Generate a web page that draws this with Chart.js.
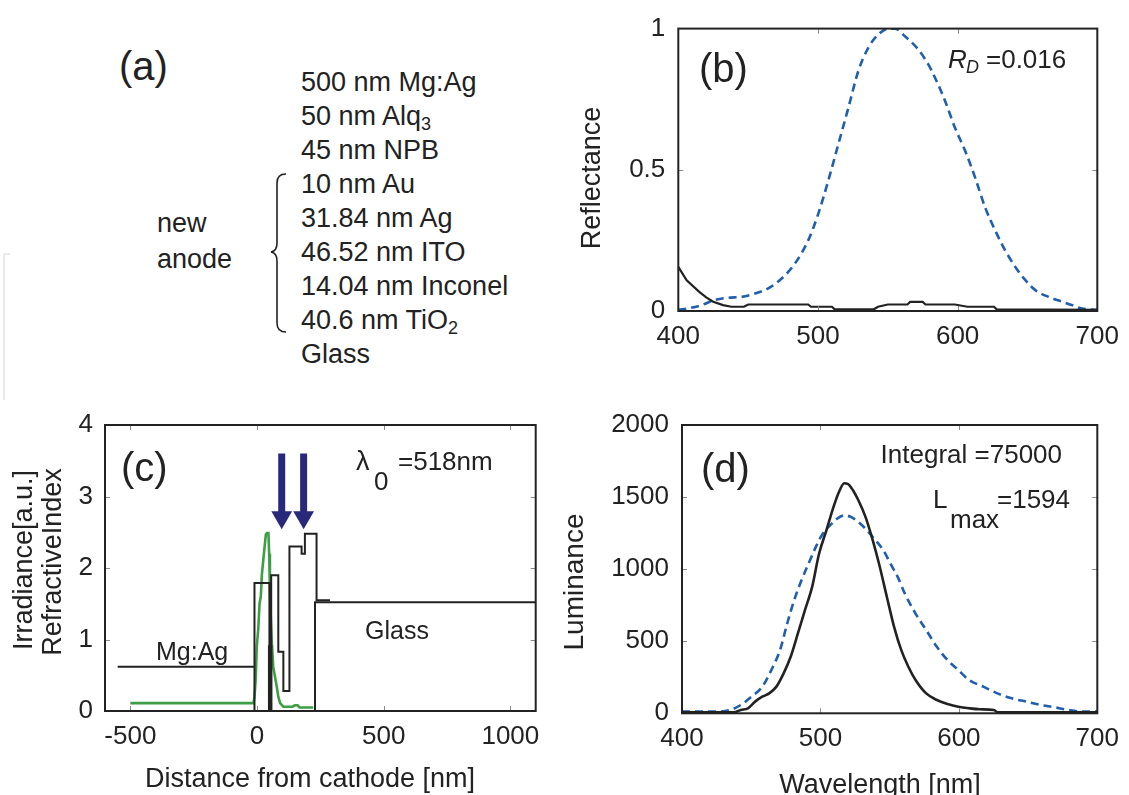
<!DOCTYPE html>
<html><head><meta charset="utf-8">
<script src="https://cdn.jsdelivr.net/npm/chart.js@4.4.0/dist/chart.umd.min.js"></script>
<style>
html,body{margin:0;padding:0;background:#fff;}
body{width:1129px;height:795px;position:relative;overflow:hidden;}
canvas{position:absolute;}
</style></head><body>
<svg width="560" height="400" style="position:absolute;left:0;top:0" font-family="Liberation Sans, Arial, Helvetica, sans-serif" fill="#222">
  <path d="M10,254 L4,254 L4,410" stroke="#e4e4e4" stroke-width="1.5" fill="none"/>
  <text x="119" y="80" font-size="40">(a)</text>
  <text x="301" y="90.7" font-size="27">500 nm Mg:Ag</text>
  <text x="301" y="124.7" font-size="27">50 nm Alq<tspan font-size="18" dy="5">3</tspan></text>
  <text x="301" y="158.7" font-size="27">45 nm NPB</text>
  <text x="301" y="192.7" font-size="27">10 nm Au</text>
  <text x="301" y="226.7" font-size="27">31.84 nm Ag</text>
  <text x="301" y="260.7" font-size="27">46.52 nm ITO</text>
  <text x="301" y="294.7" font-size="27">14.04 nm Inconel</text>
  <text x="301" y="328.7" font-size="27">40.6 nm TiO<tspan font-size="18" dy="5">2</tspan></text>
  <text x="301" y="362.7" font-size="27">Glass</text>
  <text x="157" y="231.7" font-size="27">new</text>
  <text x="157" y="268.3" font-size="27">anode</text>
  <path d="M286,174 Q277,174 277,183 L277,243 Q277,251 271,252 Q277,253 277,261 L277,323 Q277,332 286,332" stroke="#222" stroke-width="1.6" fill="none"/>
</svg>
<canvas id="cb" width="569" height="380" style="left:560px;top:0px;width:569px;height:380px"></canvas>
<canvas id="cc" width="560" height="415" style="left:0px;top:380px;width:560px;height:415px"></canvas>
<canvas id="cd" width="569" height="415" style="left:560px;top:380px;width:569px;height:415px"></canvas>
<script>
// ---------------- DATA ----------------
// Panel (b): reflectance vs wavelength
const bTicksX = [400, 500, 600, 700];
const bTicksY = [0, 0.5, 1];
const bBlackWl = [400, 406, 415, 420, 425, 432, 438, 447, 450, 493, 495, 510, 512, 540, 543, 550, 564, 566, 575, 577, 598, 607, 626, 628, 700];
const bBlackR  = [0.156, 0.109, 0.068, 0.048, 0.033, 0.021, 0.015, 0.015, 0.023, 0.023, 0.015, 0.015, 0.006, 0.006, 0.015, 0.023, 0.023, 0.032, 0.032, 0.023, 0.023, 0.015, 0.015, 0.006, 0.004];
const bBlueWl = [400, 408, 416.7, 426, 435.8, 445.3, 455, 464.4, 474, 483.5, 493, 500.2, 507.4, 514.6, 521.8, 528.9, 536, 543.2, 550.4, 555, 562.3, 571.8, 579, 583.8, 591, 598, 605.3, 612.4, 619.6, 626.8, 634, 641.3, 648.5, 655.6, 665, 674.6, 681.7, 688.9, 700];
const bBlueR  = [0.004, 0.01, 0.021, 0.039, 0.047, 0.05, 0.062, 0.08, 0.115, 0.168, 0.25, 0.344, 0.462, 0.591, 0.72, 0.85, 0.932, 0.979, 1.0, 1.0, 0.973, 0.926, 0.873, 0.826, 0.744, 0.65, 0.568, 0.474, 0.368, 0.286, 0.215, 0.156, 0.109, 0.074, 0.05, 0.033, 0.021, 0.009, 0.004];

// Panel (c): refractive index profile and irradiance vs distance
const cTicksX = [-500, 0, 500, 1000];
const cTicksY = [0, 1, 2, 3, 4];
const cIndexX = [-550, -10, -10, -10, 49, 49, 56, 56, 84, 84, 104, 104, 128, 128, 176, 176, 189, 189, 235, 235, 288];
const cIndexN = [0.62, 0.62, 0, 1.79, 1.79, 0.9, 0.9, 1.9, 1.9, 0.83, 0.83, 0.28, 0.28, 2.3, 2.3, 2.2, 2.2, 2.48, 2.48, 1.55, 1.55];
const cGlassX = [229, 229, 1100];
const cGlassN = [0, 1.52, 1.52];
const cEmitX = [52, 52];
const cEmitY = [0, 0.92];
const cIrrX = [-500, -14, -10, -5, -1, 5, 10, 15, 19, 25, 30, 35, 40, 45, 48, 51, 55, 58, 64, 71, 78, 84, 91, 104, 140, 150, 160, 168, 222];
const cIrrY = [0.11, 0.11, 0.2, 0.45, 0.9, 1.15, 1.5, 1.6, 1.9, 2.12, 2.3, 2.47, 2.49, 2.49, 2.2, 1.69, 1.25, 0.99, 0.62, 0.48, 0.34, 0.2, 0.11, 0.06, 0.06, 0.08, 0.08, 0.05, 0.05];
const cArrowX = [97.5, 184];
const cArrowTop = 3.6, cArrowBase = 2.76, cArrowHead = 2.71;

// Panel (d): luminance vs wavelength
const dTicksX = [400, 500, 600, 700];
const dTicksY = [0, 500, 1000, 1500, 2000];
const dBlackWl = [400, 437.3, 442.5, 447.6, 452.8, 458, 463, 468.2, 473.4, 478.5, 483.7, 488.8, 494, 499, 504.3, 509.4, 513.3, 517.2, 519.7, 523.6, 527.5, 532.6, 537.8, 542.9, 548, 553.2, 558.4, 563.5, 568.7, 576.4, 584.1, 591.8, 599.6, 607.3, 615, 625.3, 628, 700];
const dBlackL  = [7, 7, 23, 35, 81, 115, 138, 185, 277, 392, 554, 715, 877, 1107, 1269, 1430, 1534, 1596, 1592, 1546, 1476, 1361, 1200, 1015, 807, 600, 438, 323, 231, 138, 92, 65, 46, 35, 28, 23, 7, 7];
const dBlueWl = [400, 424.5, 434.8, 442.5, 450.2, 458, 465.7, 470.8, 476, 481, 486.3, 491.4, 496.6, 501.7, 506.9, 512, 517.2, 522.3, 527.5, 532.6, 537.8, 545.5, 550.6, 555.8, 561, 568.7, 576.4, 584.1, 591.8, 599.6, 607.3, 617.6, 627.9, 638.2, 648.5, 658.8, 669, 679.4, 689.7, 700];
const dBlueL  = [12, 12, 23, 58, 115, 185, 323, 438, 623, 784, 923, 1038, 1153, 1246, 1303, 1350, 1373, 1361, 1326, 1280, 1223, 1130, 1038, 946, 830, 692, 577, 461, 369, 300, 231, 185, 138, 104, 81, 58, 42, 23, 12, 12];

// ---------------- HELPERS ----------------
const FONT = '"Liberation Sans", Arial, Helvetica, sans-serif';
Chart.defaults.font.family = FONT;
Chart.defaults.color = '#222';
const INK = '#222';
const BLUE = '#1f5fae';
const GREEN = '#3d9e45';
const NAVY = '#29287a';

function pts(xs, ys) { return xs.map((x, i) => ({ x: x, y: ys[i] })); }

function axis(min, max, ticks, fit, isX, pad) {
  return {
    type: 'linear', min: min, max: max,
    afterBuildTicks: s => { s.ticks = ticks.map(v => ({ value: v })); },
    afterFit: s => { if (isX) s.height = fit; else s.width = fit; },
    grid: { display: false, drawTicks: false },
    border: { display: false },
    ticks: { font: { size: 26 }, color: INK, padding: pad, autoSkip: false, maxRotation: 0, minRotation: 0,
             callback: v => String(v) }
  };
}

function line(data, color, width, extra) {
  return Object.assign({ data: data, showLine: true, pointRadius: 0, pointHoverRadius: 0, fill: false,
    borderColor: color, borderWidth: width, tension: 0 }, extra || {});
}

function panelPlugin(texts, ox, oy) {
  return {
    id: 'panel',
    afterDatasetsDraw(chart) {
      const ctx = chart.ctx, a = chart.chartArea, sx = chart.scales.x, sy = chart.scales.y;
      ctx.save();
      ctx.strokeStyle = '#8a8a8a'; ctx.lineWidth = 1;
      ctx.beginPath();
      sx.ticks.forEach(t => {
        const p = Math.round(sx.getPixelForValue(t.value)) + 0.5;
        if (p > a.left + 3 && p < a.right - 3) {
          ctx.moveTo(p, a.bottom); ctx.lineTo(p, a.bottom - 5);
          ctx.moveTo(p, a.top); ctx.lineTo(p, a.top + 5);
        }
      });
      sy.ticks.forEach(t => {
        const p = Math.round(sy.getPixelForValue(t.value)) + 0.5;
        if (p > a.top + 3 && p < a.bottom - 3) {
          ctx.moveTo(a.left, p); ctx.lineTo(a.left + 5, p);
          ctx.moveTo(a.right, p); ctx.lineTo(a.right - 5, p);
        }
      });
      ctx.stroke();
      ctx.strokeStyle = INK; ctx.lineWidth = 2;
      ctx.strokeRect(a.left, a.top, a.right - a.left, a.bottom - a.top);
      ctx.fillStyle = INK;
      texts.forEach(t => {
        ctx.save();
        ctx.font = (t.style || '') + ' ' + t.size + 'px ' + FONT;
        ctx.translate(t.x - ox, t.y - oy);
        if (t.rot) { ctx.rotate(-Math.PI / 2); ctx.textAlign = 'center'; ctx.textBaseline = 'middle'; }
        else { ctx.textAlign = t.align || 'left'; ctx.textBaseline = 'alphabetic'; }
        ctx.fillText(t.s, 0, 0);
        ctx.restore();
      });
      ctx.restore();
    }
  };
}

function baseOptions(pad, xAxis, yAxis) {
  return {
    responsive: false, animation: false, devicePixelRatio: 1,
    layout: { padding: pad },
    plugins: { legend: { display: false }, tooltip: { enabled: false } },
    events: [],
    scales: { x: xAxis, y: yAxis }
  };
}

// ---------------- PANEL (b) ----------------
new Chart(document.getElementById('cb'), {
  type: 'scatter',
  data: { datasets: [
    line(pts(bBlackWl, bBlackR), INK, 2.2),
    line(pts(bBlueWl, bBlueR), BLUE, 2.6, { borderDash: [8, 5], cubicInterpolationMode: 'monotone' })
  ] },
  options: baseOptions({ left: 0, top: 27.3, right: 27.3, bottom: 0 },
    axis(400, 700, bTicksX, 69, true, 10),
    axis(0, 1, bTicksY, 118.3, false, 13)),
  plugins: [panelPlugin([
    { s: '(b)', x: 699, y: 82, size: 40 },
    { s: 'R', x: 948, y: 68, size: 26, style: 'italic' },
    { s: 'D', x: 966, y: 73, size: 18, style: 'italic' },
    { s: '=0.016', x: 986, y: 68, size: 26 },
    { s: 'Reflectance', x: 592.5, y: 178, size: 27, rot: true }
  ], 560, 0)]
});

// ---------------- PANEL (c) ----------------
const cDatasets = [];
cArrowX.forEach(x => {
  cDatasets.push(line([{ x: x, y: cArrowTop }, { x: x, y: cArrowBase }], NAVY, 7, { borderCapStyle: 'butt' }));
});
cDatasets.push({ data: cArrowX.map(x => ({ x: x, y: cArrowHead })), showLine: false, pointStyle: 'triangle',
  rotation: 180, pointRadius: 12, pointHoverRadius: 12, backgroundColor: NAVY, borderColor: NAVY, borderWidth: 0 });
cDatasets.push(line(pts(cEmitX, cEmitY), INK, 4.5, { borderCapStyle: 'butt' }));
cDatasets.push(line(pts(cIndexX, cIndexN), INK, 2));
cDatasets.push(line(pts(cGlassX, cGlassN), INK, 2));
cDatasets.push(line(pts(cIrrX, cIrrY), GREEN, 2.6));

new Chart(document.getElementById('cc'), {
  type: 'scatter',
  data: { datasets: cDatasets },
  options: baseOptions({ left: 0, top: 45, right: 24.3, bottom: 0 },
    axis(-600, 1100, cTicksX, 84, true, 10),
    axis(0, 4, cTicksY, 105, false, 12)),
  plugins: [panelPlugin([
    { s: '(c)', x: 121, y: 481, size: 40 },
    { s: 'λ', x: 356, y: 470, size: 27 },
    { s: '0', x: 374, y: 490, size: 26 },
    { s: '=518nm', x: 398, y: 470, size: 26 },
    { s: 'Mg:Ag', x: 156, y: 660, size: 25 },
    { s: 'Glass', x: 365, y: 639, size: 25 },
    { s: 'Irradiance[a.u.]', x: 25, y: 560, size: 27, rot: true },
    { s: 'RefractiveIndex', x: 53.3, y: 562, size: 27, rot: true },
    { s: 'Distance from cathode [nm]', x: 310, y: 787, size: 27, align: 'center' }
  ], 0, 380)]
});

// ---------------- PANEL (d) ----------------
new Chart(document.getElementById('cd'), {
  type: 'scatter',
  data: { datasets: [
    line(pts(dBlackWl, dBlackL), INK, 2.6, { cubicInterpolationMode: 'monotone' }),
    line(pts(dBlueWl, dBlueL), BLUE, 2.6, { borderDash: [8, 5], cubicInterpolationMode: 'monotone' })
  ] },
  options: baseOptions({ left: 0, top: 45, right: 25, bottom: 0 },
    axis(400, 700, dTicksX, 81.7, true, 10),
    axis(0, 2000, dTicksY, 122, false, 13)),
  plugins: [panelPlugin([
    { s: '(d)', x: 701, y: 482, size: 40 },
    { s: 'Integral =75000', x: 880.6, y: 463, size: 26 },
    { s: 'L', x: 933, y: 508, size: 26 },
    { s: 'max', x: 950, y: 528, size: 26 },
    { s: '=1594', x: 997, y: 508, size: 26 },
    { s: 'Luminance', x: 575, y: 582, size: 28, rot: true },
    { s: 'Wavelength [nm]', x: 880, y: 793, size: 27, align: 'center' }
  ], 560, 380)]
});
</script>
</body></html>
